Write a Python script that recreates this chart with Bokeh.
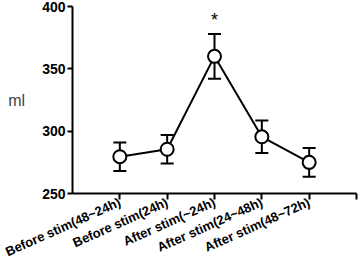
import math
from bokeh.plotting import figure
from bokeh.models import ColumnDataSource, Whisker, TeeHead, FixedTicker
from bokeh.core.properties import value
from bokeh.embed import file_html
from bokeh.resources import INLINE

categories = ["Before stim(48~24h)", "Before stim(24h)", "After stim(~24h)",
              "After stim(24~48h)", "After stim(48~72h)"]
positions = [1, 2, 3, 4, 5]
means = [279.5, 285.5, 360.0, 295.5, 275.0]
errors = [11.5, 11.5, 18.0, 13.0, 11.5]
y_ticks = [250, 300, 350, 400]
star_pos = [3]
star_y = [389]
star_text = ["*"]

FONT = "Liberation Sans"

src = ColumnDataSource(dict(
    x=positions, y=means,
    upper=[m + e for m, e in zip(means, errors)],
    lower=[m - e for m, e in zip(means, errors)],
))

p = figure(width=358, height=269, x_range=(0, 6), y_range=(250, 400),
           output_backend="svg", toolbar_location=None,
           min_border_left=72, min_border_right=2, min_border_top=6,
           min_border_bottom=76)
p.outline_line_color = None
p.xgrid.visible = False
p.ygrid.visible = False
p.background_fill_color = "white"

w = Whisker(base="x", upper="upper", lower="lower", source=src,
            line_width=2, line_color="black",
            upper_head=TeeHead(size=13, line_width=2, line_color="black"),
            lower_head=TeeHead(size=13, line_width=2, line_color="black"))
p.add_layout(w)

p.line("x", "y", source=src, line_color="black", line_width=2)
p.scatter("x", "y", source=src, marker="circle", size=13,
          fill_color="white", line_color="black", line_width=2)

p.text(x=star_pos, y=star_y, text=star_text, text_align="center",
       text_baseline="middle", text_font=value(FONT), text_font_size="18px",
       text_color="black")

for ax in (p.xaxis, p.yaxis):
    ax.axis_line_width = 2
    ax.axis_line_color = "black"
    ax.major_tick_line_width = 2
    ax.major_tick_line_color = "black"
    ax.minor_tick_line_color = None
    ax.major_tick_in = 0
    ax.major_label_text_font = FONT
    ax.major_label_text_font_style = "bold"
    ax.major_label_text_color = "black"

p.xaxis.ticker = FixedTicker(ticks=positions + [6])
overrides = {pos: lab for pos, lab in zip(positions, categories)}
overrides[6] = ""
p.xaxis.major_label_overrides = overrides
p.xaxis.major_label_orientation = 0.42
p.xaxis.major_label_text_font_size = "13px"
p.xaxis.major_tick_out = 6
p.xaxis.major_label_standoff = 2

p.yaxis.ticker = FixedTicker(ticks=y_ticks)
p.yaxis.major_label_text_font_size = "14px"
p.yaxis.major_tick_out = 5
p.yaxis.major_label_standoff = 2
p.yaxis.axis_label = "ml"
p.yaxis.axis_label_orientation = "horizontal"
p.yaxis.axis_label_text_font = FONT
p.yaxis.axis_label_text_font_style = "normal"
p.yaxis.axis_label_text_font_size = "16px"
p.yaxis.axis_label_standoff = 14

open("out.html", "w").write(file_html(p, INLINE))
